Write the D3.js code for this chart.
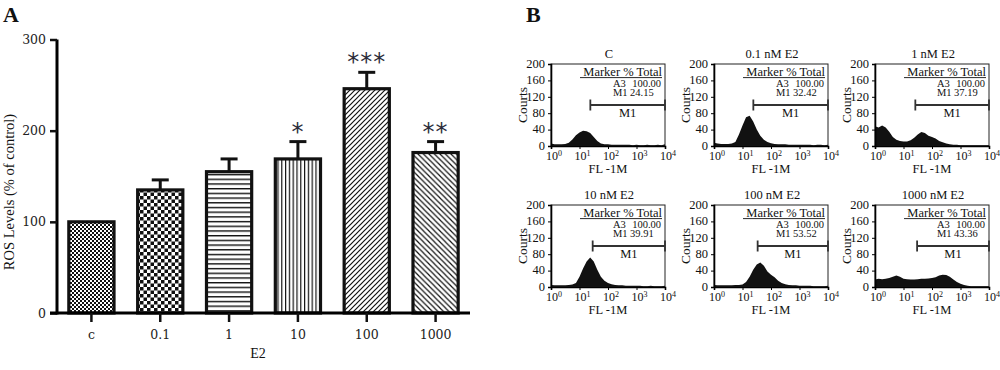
<!DOCTYPE html>
<html><head><meta charset="utf-8">
<script src="https://cdn.jsdelivr.net/npm/d3@7"></script>
<style>
html,body{margin:0;padding:0;background:#fff;}
svg{display:block;}
text{font-family:"Liberation Serif","DejaVu Serif",serif;fill:#111;}
</style></head><body>
<svg id="chart" width="1000" height="370"></svg>
<script>
// ---------- Panel A data ----------
const categories = ["c", "0.1", "1", "10", "100", "1000"];
const rosMeans = [100, 135, 155, 169, 246, 176];
const rosErrUp = [0, 11, 14, 19, 18, 12];
const signif = ["", "", "", "*", "***", "**"];
const rosTicks = [0, 100, 200, 300];
const barPatterns = ["pFinecheck", "pCheck", "pHlines", "pVlines", "pDiagUp", "pDiagDown"];

// ---------- Panel B data ----------
const panelTitles = ["C", "0.1 nM E2", "1 nM E2", "10 nM E2", "100 nM E2", "1000 nM E2"];
const a3Values = ["100.00", "100.00", "100.00", "100.00", "100.00", "100.00"];
const m1Values = ["24.15", "32.42", "37.19", "39.91", "53.52", "43.36"];
const markerStart = [24, 24, 26, 29, 34, 30];
const markerEnd = [10000, 10000, 10000, 10000, 10000, 10000];
const countTicks = [0, 40, 80, 120, 160, 200];
const flTicksExp = [0, 1, 2, 3, 4];
// log10 fluorescence positions of histogram points
const histLogFL = [0, 0.125, 0.25, 0.375, 0.5, 0.625, 0.75, 0.875, 1, 1.125, 1.25, 1.375, 1.5, 1.625, 1.75, 1.875,
  2, 2.125, 2.25, 2.375, 2.5, 2.625, 2.75, 2.875, 3, 3.125, 3.25, 3.375, 3.5, 3.625, 3.75, 3.875, 4];
const countsC =     [6, 4, 4, 4, 5, 8, 16, 26, 33, 37, 36, 32, 22, 12, 6, 4, 4, 3, 3, 3, 3, 3, 3, 2, 3, 2, 2, 3, 2, 2, 3, 2, 4];
const counts0_1 =   [8, 6, 5, 5, 5, 6, 10, 28, 50, 70, 74, 60, 40, 25, 15, 10, 7, 5, 4, 4, 4, 3, 3, 3, 3, 3, 3, 3, 2, 3, 3, 2, 3];
const counts1 =     [48, 45, 50, 45, 35, 22, 15, 12, 11, 11, 14, 20, 28, 34, 32, 25, 22, 18, 12, 9, 6, 4, 3, 3, 2, 2, 2, 2, 2, 2, 2, 2, 2];
const counts10 =    [5, 4, 4, 4, 4, 5, 6, 10, 25, 45, 62, 72, 62, 42, 25, 15, 10, 7, 5, 4, 4, 3, 3, 3, 3, 3, 2, 2, 3, 2, 2, 2, 3];
const counts100 =   [5, 4, 4, 4, 4, 4, 5, 5, 6, 12, 25, 42, 55, 60, 52, 38, 30, 24, 15, 10, 7, 5, 4, 4, 3, 3, 3, 3, 2, 2, 2, 2, 3];
const counts1000 =  [18, 20, 19, 20, 22, 25, 28, 25, 20, 19, 18, 18, 19, 20, 20, 21, 22, 24, 28, 30, 29, 25, 18, 12, 8, 5, 3, 2, 2, 2, 2, 2, 2];
const histCounts = [countsC, counts0_1, counts1, counts10, counts100, counts1000];

const svg = d3.select("#chart");
const defs = svg.append("defs");

// ---------- patterns ----------
function pat(id, w, h) {
  const p = defs.append("pattern").attr("id", id).attr("patternUnits", "userSpaceOnUse")
    .attr("width", w).attr("height", h);
  p.append("rect").attr("width", w).attr("height", h).attr("fill", "#fff");
  return p;
}
let p = pat("pFinecheck", 4, 4);
p.append("rect").attr("x", 0).attr("y", 0).attr("width", 2).attr("height", 2).attr("fill", "#111");
p.append("rect").attr("x", 2).attr("y", 2).attr("width", 2).attr("height", 2).attr("fill", "#111");
p = pat("pCheck", 7, 7);
p.append("rect").attr("x", 0).attr("y", 0).attr("width", 3.5).attr("height", 3.5).attr("fill", "#111");
p.append("rect").attr("x", 3.5).attr("y", 3.5).attr("width", 3.5).attr("height", 3.5).attr("fill", "#111");
p = pat("pHlines", 8, 4.7);
p.append("rect").attr("x", 0).attr("y", 0).attr("width", 8).attr("height", 1.4).attr("fill", "#111");
p = pat("pVlines", 3.8, 8);
p.append("rect").attr("x", 0).attr("y", 0).attr("width", 1.2).attr("height", 8).attr("fill", "#111");
const du = 5;
p = pat("pDiagUp", du, du);
p.append("path").attr("d", `M-1,1L1,-1M0,${du}L${du},0M${du - 1},${du + 1}L${du + 1},${du - 1}`)
  .attr("stroke", "#111").attr("stroke-width", 1.2).attr("fill", "none");
const dd = 5.5;
p = pat("pDiagDown", dd, dd);
p.append("path").attr("d", `M-1,${dd - 1}L1,${dd + 1}M0,0L${dd},${dd}M${dd - 1},-1L${dd + 1},1`)
  .attr("stroke", "#111").attr("stroke-width", 1.2).attr("fill", "none");

// ---------- Panel A ----------
const x = d3.scaleBand().domain(categories).range([57, 470]).paddingInner(0.3).paddingOuter(0.15);
const y = d3.scaleLinear().domain([0, 300]).range([313, 39.5]);
const gA = svg.append("g");

gA.append("text").attr("x", 3).attr("y", 22).attr("font-size", 22).attr("font-weight", "bold").text("A");

gA.selectAll("rect.bar").data(categories).join("rect").attr("class", "bar")
  .attr("x", d => x(d) + 1.5).attr("width", x.bandwidth() - 3)
  .attr("y", (d, i) => y(rosMeans[i])).attr("height", (d, i) => y(0) - y(rosMeans[i]))
  .attr("fill", (d, i) => `url(#${barPatterns[i]})`)
  .attr("stroke", "#111").attr("stroke-width", 3.2);

const errG = gA.append("g").attr("stroke", "#111").attr("stroke-width", 3);
categories.forEach((c, i) => {
  if (!rosErrUp[i]) return;
  const cx = x(c) + x.bandwidth() / 2;
  errG.append("line").attr("x1", cx).attr("x2", cx).attr("y1", y(rosMeans[i])).attr("y2", y(rosMeans[i] + rosErrUp[i]));
  errG.append("line").attr("x1", cx - 8.5).attr("x2", cx + 8.5).attr("y1", y(rosMeans[i] + rosErrUp[i])).attr("y2", y(rosMeans[i] + rosErrUp[i]));
});

gA.selectAll("text.sig").data(categories).join("text").attr("class", "sig")
  .attr("x", d => x(d) + x.bandwidth() / 2)
  .attr("y", (d, i) => y(rosMeans[i] + rosErrUp[i]) - 2)
  .attr("text-anchor", "middle").attr("font-size", 24).attr("letter-spacing", 1)
  .style("font-family", "'DejaVu Sans',sans-serif").style("fill", "#2b2b3a")
  .text((d, i) => signif[i]);

const yAxis = d3.axisLeft(y).tickValues(rosTicks).tickSize(7).tickPadding(4);
const yG = gA.append("g").attr("transform", "translate(57,0)").call(yAxis);
yG.select(".domain").attr("stroke-width", 3).attr("fill", "none").attr("d", `M0,${y(0) + 1.5}V${y(300)}`);
yG.selectAll(".tick line").attr("stroke-width", 2.5).attr("stroke", "#111");
yG.selectAll(".tick text").attr("font-size", 12.5).style("font-family", "'DejaVu Serif',serif").style("fill", "#222");

const xAxis = d3.axisBottom(x).tickSize(9).tickPadding(8);
const xG = gA.append("g").attr("transform", `translate(0,${y(0)})`).call(xAxis);
xG.select(".domain").attr("stroke-width", 3).attr("fill", "none").attr("d", "M50,0H470");
xG.selectAll(".tick line").attr("stroke-width", 2.5).attr("stroke", "#111");
xG.selectAll(".tick text").attr("font-size", 12.5).style("font-family", "'DejaVu Serif',serif").style("fill", "#222");

gA.append("text").attr("x", 258).attr("y", 358).attr("text-anchor", "middle").attr("font-size", 14).text("E2");
gA.append("text").attr("transform", "translate(14,192) rotate(-90)").attr("text-anchor", "middle")
  .attr("font-size", 14.5).text("ROS Levels (% of control)");

// ---------- Panel B ----------
svg.append("text").attr("x", 526).attr("y", 22).attr("font-size", 22).attr("font-weight", "bold").text("B");

const colLeft = [551, 714, 875];
const rowTop = [64, 205];
const pw = 114, ph = 82;

panelTitles.forEach((title, i) => {
  const L = colLeft[i % 3], T = rowTop[Math.floor(i / 3)];
  const g = svg.append("g").attr("class", "panelB").attr("transform", `translate(${L},${T})`);
  const fx = d3.scaleLog().domain([1, 10000]).range([0, pw]);
  const fy = d3.scaleLinear().domain([0, 200]).range([ph, 0]);

  const area = d3.area().x(d => fx(Math.pow(10, d[0]))).y0(ph).y1(d => fy(d[1]));
  const pts = histLogFL.map((v, k) => [v, histCounts[i][k]]);
  g.append("path").attr("class", "hist").attr("d", area(pts)).attr("fill", "#111").attr("stroke", "none");

  g.append("rect").attr("class", "frame").attr("x", 0).attr("y", 0).attr("width", pw).attr("height", ph)
    .attr("fill", "none").attr("stroke", "#222").attr("stroke-width", 1);

  const ay = d3.axisLeft(fy).tickValues(countTicks).tickSize(3).tickPadding(3);
  const ayG = g.append("g").attr("class", "ay").call(ay);
  ayG.select(".domain").attr("stroke-width", 1.6).attr("fill", "none");
  ayG.selectAll(".tick text").attr("font-size", 12.5).attr("dy", "0.26em")
    .style("font-family", "'Liberation Serif',serif").style("fill", "#111");

  const ax = d3.axisBottom(fx).tickValues(flTicksExp.map(e => Math.pow(10, e))).tickSize(3).tickPadding(2).tickFormat("");
  const axG = g.append("g").attr("class", "ax").attr("transform", `translate(0,${ph})`).call(ax);
  axG.select(".domain").attr("stroke-width", 1.6).attr("fill", "none");
  axG.selectAll(".tick").each(function (d, k) {
    const t = d3.select(this).append("text").attr("x", -5.5).attr("y", 14).attr("text-anchor", "start")
      .attr("font-size", 12).style("font-family", "'Liberation Serif',serif").style("fill", "#111");
    t.append("tspan").text("10");
    t.append("tspan").attr("dy", -4).attr("font-size", 8).text(flTicksExp[k]);
  });

  g.append("text").attr("x", pw / 2).attr("y", ph + 27).attr("text-anchor", "middle").attr("font-size", 12.5).text("FL -1M");
  g.append("text").attr("transform", `translate(-24,${ph / 2}) rotate(-90)`).attr("text-anchor", "middle")
    .attr("font-size", 13.5).text("Courts");

  g.append("text").attr("x", pw / 2 + 1).attr("y", -6).attr("text-anchor", "middle").attr("font-size", 12.5).text(title);

  g.append("text").attr("x", pw - 3).attr("y", 12).attr("text-anchor", "end").attr("font-size", 12.5).text("Marker % Total");
  g.append("line").attr("x1", 29).attr("x2", pw - 3).attr("y1", 13.6).attr("y2", 13.6).attr("stroke", "#111").attr("stroke-width", 0.9);
  g.append("text").attr("x", pw - 52).attr("y", 22.7).attr("font-size", 10.5).text("A3");
  g.append("text").attr("x", pw - 4).attr("y", 22.7).attr("text-anchor", "end").attr("font-size", 10.5).text(a3Values[i]);
  g.append("text").attr("x", pw - 52).attr("y", 32.2).attr("font-size", 10.5).text("M1");
  g.append("text").attr("x", pw - 35).attr("y", 32.2).attr("font-size", 10.5).text(m1Values[i]);

  const my = fy(100);
  const x1 = fx(markerStart[i]), x2 = fx(markerEnd[i]);
  const mg = g.append("g").attr("stroke", "#333").attr("stroke-width", 1.8);
  mg.append("line").attr("x1", x1).attr("x2", x2).attr("y1", my).attr("y2", my);
  mg.append("line").attr("x1", x1).attr("x2", x1).attr("y1", my - 5.5).attr("y2", my + 5.5);
  mg.append("line").attr("x1", x2).attr("x2", x2).attr("y1", my - 5.5).attr("y2", my + 5.5);
  g.append("text").attr("x", (x1 + x2) / 2).attr("y", my + 12).attr("text-anchor", "middle").attr("font-size", 12.5).text("M1");
});
</script>
</body></html>
